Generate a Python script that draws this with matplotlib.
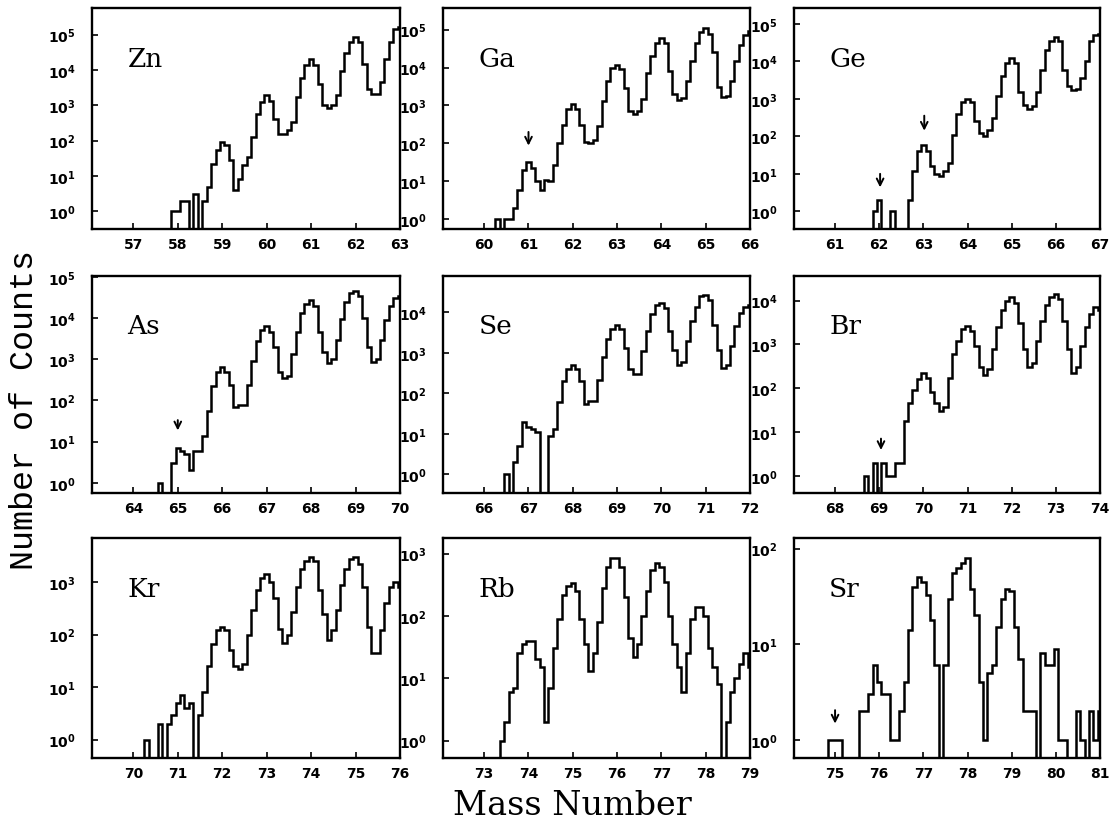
import numpy as np
import matplotlib
matplotlib.use("Agg")
import matplotlib.pyplot as plt

BIN = 0.1

elements = ["Zn", "Ga", "Ge", "As", "Se", "Br", "Kr", "Rb", "Sr"]
mass_lo = [56, 59, 60, 63, 65, 67, 69, 72, 74]
first_bin = [57.9, 60.3, 61.9, 64.6, 66.5, 68.7, 70.3, 73.4, 74.9]

zn_counts = [1, 1, 2, 2, 0, 3, 0, 2, 5, 22, 55, 90, 75, 28, 4, 8, 20, 35, 130, 550,
             1200, 1900, 1300, 400, 150, 150, 200, 330, 1700, 6000, 14000, 20000, 14000,
             4000, 1000, 850, 1000, 2000, 9000, 30000, 60000, 87000, 60000, 15000, 2800,
             2100, 2100, 4500, 20000, 60000, 140000, 160000]
ga_counts = [1, 0, 1, 1, 2, 6, 20, 33, 22, 10, 6, 11, 10, 27, 100, 300, 800, 1100, 800,
             300, 110, 100, 120, 280, 1300, 4500, 10000, 12000, 9000, 2800, 700, 600, 700,
             1500, 7000, 20000, 45000, 60000, 45000, 8000, 2000, 1400, 1600, 4500, 15000,
             45000, 85000, 110000, 75000, 25000, 3000, 1700, 1800, 4500, 15000, 40000,
             70000, 90000]
ge_counts = [1, 2, 0, 0, 1, 0, 0, 0, 2, 12, 40, 60, 40, 16, 10, 9, 12, 20, 110, 400, 800,
             1000, 800, 250, 120, 100, 150, 300, 1200, 4000, 9000, 12000, 9000, 1500, 700,
             550, 650, 1500, 6000, 20000, 35000, 45000, 35000, 6000, 2200, 1700, 1800,
             3500, 10000, 35000, 50000, 55000]
as_counts = [1, 0, 0, 3, 7, 6, 5, 2, 6, 6, 14, 55, 220, 500, 650, 500, 230, 70, 75, 75,
             230, 900, 2700, 5000, 6500, 4500, 2000, 500, 350, 400, 1300, 4500, 13000,
             22000, 27000, 20000, 4500, 1500, 800, 1000, 3000, 9500, 25000, 40000, 45000,
             35000, 10000, 2000, 850, 1000, 3000, 9000, 20000, 30000, 35000]
se_counts = [1, 0, 2, 5, 20, 15, 13, 11, 0, 0, 9, 13, 60, 200, 400, 500, 400, 200, 55, 65,
             65, 220, 800, 2200, 4000, 5000, 3800, 1300, 400, 300, 300, 1100, 3500, 9000,
             15000, 17000, 13000, 3500, 1200, 500, 600, 2000, 6000, 14000, 25000, 27000,
             20000, 5000, 1200, 420, 500, 1500, 4500, 9500, 14000, 15000]
br_counts = [1, 0, 2, 0, 2, 1, 1, 2, 2, 18, 45, 90, 160, 220, 170, 80, 45, 30, 38, 170,
             600, 1200, 2200, 2600, 2000, 900, 300, 200, 280, 800, 2500, 6000, 10000,
             12000, 9000, 3000, 800, 300, 380, 1200, 3500, 8000, 12000, 14000, 11000, 3500,
             800, 220, 300, 900, 2500, 5000, 7000, 6000]
kr_counts = [1, 0, 0, 2, 0, 2, 3, 5, 7, 4, 5, 0, 3, 8, 25, 65, 120, 140, 120, 50, 25, 22,
             27, 100, 300, 700, 1200, 1400, 1000, 500, 130, 70, 100, 270, 800, 1800, 2500,
             3000, 2500, 700, 250, 80, 120, 300, 900, 1800, 2800, 3000, 2200, 800, 140, 45,
             45, 120, 400, 800, 1000, 800]
rb_counts = [1, 2, 6, 7, 25, 35, 40, 40, 20, 15, 2, 7, 30, 90, 220, 300, 340, 250, 90, 35,
             13, 25, 80, 280, 600, 850, 850, 600, 200, 45, 22, 35, 100, 250, 550, 700, 600,
             350, 100, 35, 15, 6, 25, 90, 140, 140, 100, 30, 15, 8, 0, 2, 6, 10, 17, 25, 15]
sr_counts = [1, 1, 1, 0, 0, 0, 0, 2, 2, 3, 6, 4, 3, 3, 1, 1, 2, 4, 14, 40, 50, 45, 33, 18,
             6, 0, 6, 30, 55, 62, 70, 80, 38, 20, 4, 1, 5, 6, 15, 30, 38, 36, 15, 7, 2, 2,
             2, 0, 8, 6, 6, 9, 1, 1, 0, 0, 2, 1, 0, 2, 1, 2]

counts = [zn_counts, ga_counts, ge_counts, as_counts, se_counts,
          br_counts, kr_counts, rb_counts, sr_counts]

# y range of each panel, in decades
log_ylim = [(-0.5, 5.75), (-0.26, 5.57), (-0.47, 5.42),
            (-0.25, 5.02), (-0.46, 4.9), (-0.39, 4.56),
            (-0.35, 3.84), (-0.28, 3.25), (-0.19, 2.11)]

# arrows: (mass, log10 of tail, log10 of tip)
arrow_marks = {
    "Ga": [(61.0, 2.3, 1.94)],
    "Ge": [(62.02, 1.0, 0.64), (63.02, 2.55, 2.15)],
    "As": [(65.0, 1.52, 1.27)],
    "Br": [(69.04, 0.85, 0.59)],
    "Sr": [(75.0, 0.31, 0.17)],
}

W, H = 1113, 828
col_px = [(92, 400), (443, 750), (794, 1100)]
row_px = [(9, 230), (277, 494), (539, 759)]

fig = plt.figure(figsize=(W / 100, H / 100), dpi=100)

for i, el in enumerate(elements):
    r, c = divmod(i, 3)
    x0, x1 = col_px[c]
    y0, y1 = row_px[r]
    ax = fig.add_axes([x0 / W, 1 - y1 / H, (x1 - x0) / W, (y1 - y0) / H])

    vals = np.array(counts[i], dtype=float)
    edges = first_bin[i] - BIN / 2 + BIN * np.arange(len(vals) + 1)
    vals = np.where(vals > 0, vals, 1e-3)
    ax.stairs(vals, edges, baseline=1e-3, color="black", lw=1.8)

    ax.set_yscale("log")
    lo, hi = log_ylim[i]
    ax.set_ylim(10 ** lo, 10 ** hi)
    ax.set_xlim(mass_lo[i] + 0.07, mass_lo[i] + 7)

    xt = np.arange(mass_lo[i] + 1, mass_lo[i] + 8)
    ax.set_xticks(xt, labels=[str(v) for v in xt])
    decades = np.arange(0, int(np.floor(hi + 1e-9)) + 1)
    ax.set_yticks(10.0 ** decades,
                  labels=[r"$\mathbf{10^{%d}}$" % d for d in decades])
    ax.minorticks_off()
    ax.tick_params(axis="both", direction="in", length=4, width=1.2)
    ax.tick_params(axis="x", labelsize=10, pad=6)
    ax.tick_params(axis="y", labelsize=10, pad=12)
    for lab in ax.get_xticklabels():
        lab.set_fontweight("bold")
    for sp in ax.spines.values():
        sp.set_linewidth(1.7)

    ax.text(0.115, 0.77, el, transform=ax.transAxes, fontsize=19,
            family="DejaVu Serif", va="center", ha="left")

    for m, tail, tip in arrow_marks.get(el, []):
        ax.annotate("", xy=(m, 10 ** tip), xytext=(m, 10 ** tail),
                    arrowprops=dict(arrowstyle="->", lw=1.4, color="black",
                                    mutation_scale=12, shrinkA=0, shrinkB=0))

fig.text(0.022, 0.505, "Number of Counts", rotation=90, fontsize=24,
         family="Liberation Mono", ha="center", va="center")
fig.text(0.514, 0.026, "Mass Number", fontsize=24,
         family="DejaVu Serif", ha="center", va="center")

fig.savefig("out.png", dpi=100)
